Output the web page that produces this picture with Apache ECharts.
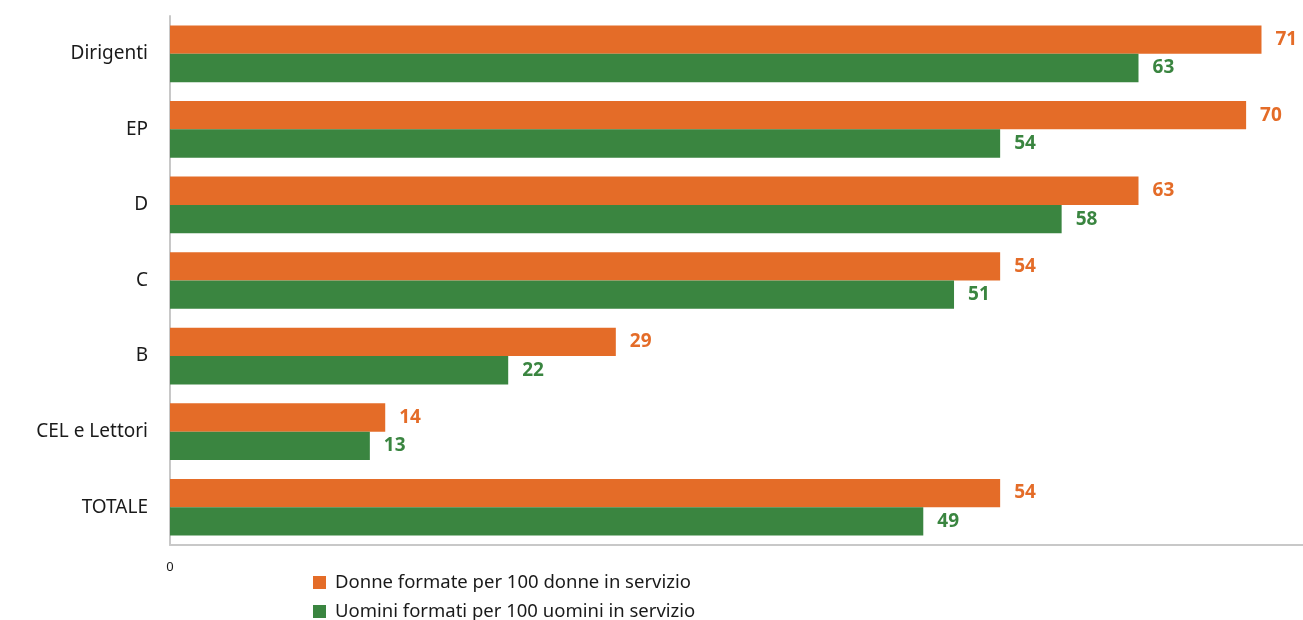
<!DOCTYPE html>
<html><head><meta charset="utf-8">
<script src="https://cdn.jsdelivr.net/npm/echarts@6/dist/echarts.min.js"></script>
<style>html,body{margin:0;padding:0;background:#fff}#c{width:1303px;height:620px}</style>
</head><body><div id="c"></div>
<script>
var categories = ["Dirigenti", "EP", "D", "C", "B", "CEL e Lettori", "TOTALE"];
var donne = [71, 70, 63, 54, 29, 14, 54];
var uomini = [63, 54, 58, 51, 22, 13, 49];
var seriesNames = ["Donne formate per 100 donne in servizio", "Uomini formati per 100 uomini in servizio"];
var ORANGE = "#E46C28", GREEN = "#3A8540";
var FONT = "Noto Sans";
var chart = echarts.init(document.getElementById('c'));
var legendText = {fontFamily: FONT, fontSize: 18.5, color: '#1a1a1a', padding: [0, 0, 0, 4]};
chart.setOption({
  animation: false,
  textStyle: {fontFamily: FONT},
  grid: {left: 170, right: 0, top: 16, bottom: 75, containLabel: false},
  legend: [
    {left: 308, top: 568, itemWidth: 13, itemHeight: 13, icon: 'rect', textStyle: legendText, data: [seriesNames[0]]},
    {left: 308, top: 597, itemWidth: 13, itemHeight: 13, icon: 'rect', textStyle: legendText, data: [seriesNames[1]]}
  ],
  xAxis: {
    type: 'value', min: 0, max: 73.7, interval: 73.7,
    splitLine: {show: false},
    axisLine: {show: true, lineStyle: {color: '#c8c8c8', width: 2}},
    axisTick: {show: false},
    axisLabel: {showMaxLabel: false, color: '#1a1a1a', fontSize: 13, margin: 16}
  },
  yAxis: {
    type: 'category', data: categories, inverse: true,
    axisLine: {show: true, lineStyle: {color: '#c8c8c8', width: 2}},
    axisTick: {show: false},
    axisLabel: {color: '#1a1a1a', fontSize: 19, margin: 22, padding: [4, 0, 0, 0]}
  },
  series: [
    {name: seriesNames[0], type: 'bar', data: donne, barGap: '0%', barCategoryGap: '25%',
     itemStyle: {color: ORANGE},
     label: {show: true, position: 'right', distance: 14, color: ORANGE, fontWeight: 'bold', fontSize: 19, fontFamily: FONT}},
    {name: seriesNames[1], type: 'bar', data: uomini, barGap: '0%', barCategoryGap: '25%',
     itemStyle: {color: GREEN},
     label: {show: true, position: 'right', distance: 14, color: GREEN, fontWeight: 'bold', fontSize: 19, fontFamily: FONT}}
  ]
});
</script></body></html>
